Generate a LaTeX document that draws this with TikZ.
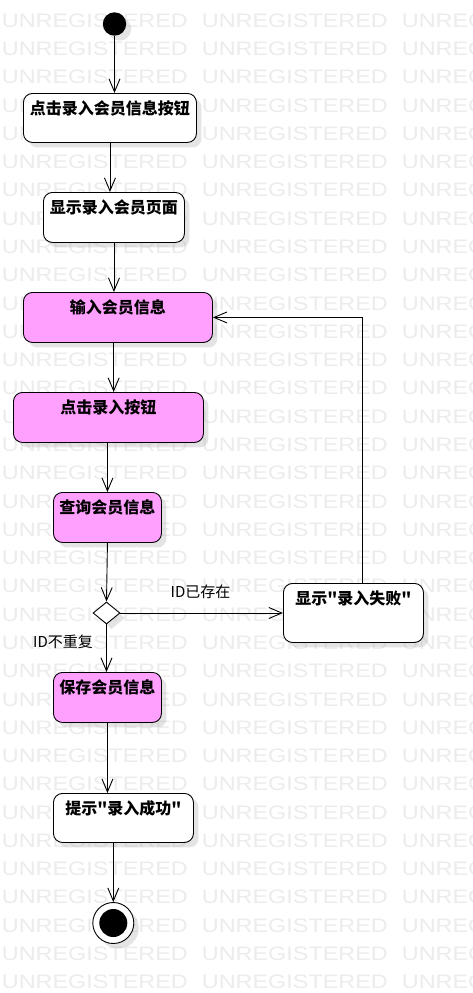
\documentclass[tikz,border=0pt]{standalone}
\usepackage{fontspec}
\newfontfamily\cjk{Noto Sans CJK SC}
\newfontfamily\wmfont{Liberation Sans}
\usetikzlibrary{arrows.meta,shapes.geometric,shadows}
\definecolor{actpink}{RGB}{255,160,255}
\definecolor{wmgray}{RGB}{236,236,236}
\begin{document}
\begin{tikzpicture}[x=1pt,y=-1pt,
  shd/.style={drop shadow={shadow xshift=5pt,shadow yshift=-5pt,fill=black!30,opacity=0.35}},
  act/.style={draw, line width=0.9pt, rounded corners=9pt, fill=white, anchor=north west,
    inner xsep=0pt, inner ysep=0pt, text height=21pt, text depth=29pt,
    font=\cjk\bfseries\fontsize{16pt}{16pt}\selectfont, align=center, shd},
  pinkact/.style={act, fill=actpink},
  lab/.style={font=\cjk\fontsize{15pt}{15pt}\selectfont, inner sep=0pt},
  wm/.style={font=\wmfont\fontsize{19.5pt}{19.5pt}\selectfont, text=wmgray, inner sep=0pt, anchor=base west, xscale=1.2},
  arr/.style={-{Straight Barb[length=13pt,width=11pt]}, line width=0.9pt}
]
\fill[white] (0,0) rectangle (473,993);
\useasboundingbox (0,0) rectangle (473,993);
\begin{scope}
\clip (0,0) rectangle (473,993);
\foreach \k in {0,...,34}{
  \foreach \x [count=\i] in {1.7,201.7,401.7}{
    \node[wm] (wm\k-\i) at (\x, 27.3+\k*28.28) {UNREGISTERED};
  }
}
\end{scope}

% nodes
\node[circle, fill=black, minimum size=23.4pt, inner sep=0pt, shd] (init) at (114.5,24) {};
\node[act, minimum width=173pt, text depth=28pt] (n1) at (23,93) {点击录入会员信息按钮};
\node[act, minimum width=141pt] (n2) at (43,192) {显示录入会员页面};
\node[pinkact, minimum width=189pt] (n3) at (23,292) {输入会员信息};
\node[pinkact, minimum width=190pt] (n4) at (13,392) {点击录入按钮};
\node[pinkact, minimum width=108pt] (n5) at (53,492) {查询会员信息};
\node[diamond, draw, line width=0.9pt, fill=white, minimum width=27pt, minimum height=22pt, inner sep=0pt, shd] (dia) at (106.5,613) {};
\node[act, minimum width=140pt, text depth=38pt] (fail) at (283,583) {显示"录入失败"};
\node[pinkact, minimum width=108pt] (n6) at (53,672) {保存会员信息};
\node[act, minimum width=140pt, text depth=28pt] (n7) at (53,793) {提示"录入成功"};
\node[circle, draw, line width=0.9pt, fill=white, minimum size=41pt, inner sep=0pt, shd] (final) at (113.3,923) {};
\node[circle, fill=black, minimum size=28pt, inner sep=0pt] (finalin) at (final.center) {};

% labels
\node[lab] (l1) at (200.5,592) {ID已存在};
\node[lab] (l2) at (63,641.5) {ID不重复};

% connectors
\coordinate (c34) at ([xshift=-4.3pt]n3.south);
\draw[arr] (init.south) -- (init.south |- n1.north);
\draw[arr] (n1.south) -- (n1.south |- n2.north);
\draw[arr] (n2.south) -- (n2.south |- n3.north);
\draw[arr] (c34) -- (c34 |- n4.north);
\draw[arr] (n5.north |- n4.south) -- (n5.north);
\draw[arr] (n5.south) -- (dia.north);
\draw[arr] (dia.east) -- (dia.east -| fail.west);
\draw[arr] ([xshift=9pt]fail.north) |- (n3.east);
\draw[arr] (dia.south) -- (dia.south |- n6.north);
\draw[arr] (n6.south) -- (n6.south |- n7.north);
\draw[arr] (final.north |- n7.south) -- (final.north);
\end{tikzpicture}
\end{document}
